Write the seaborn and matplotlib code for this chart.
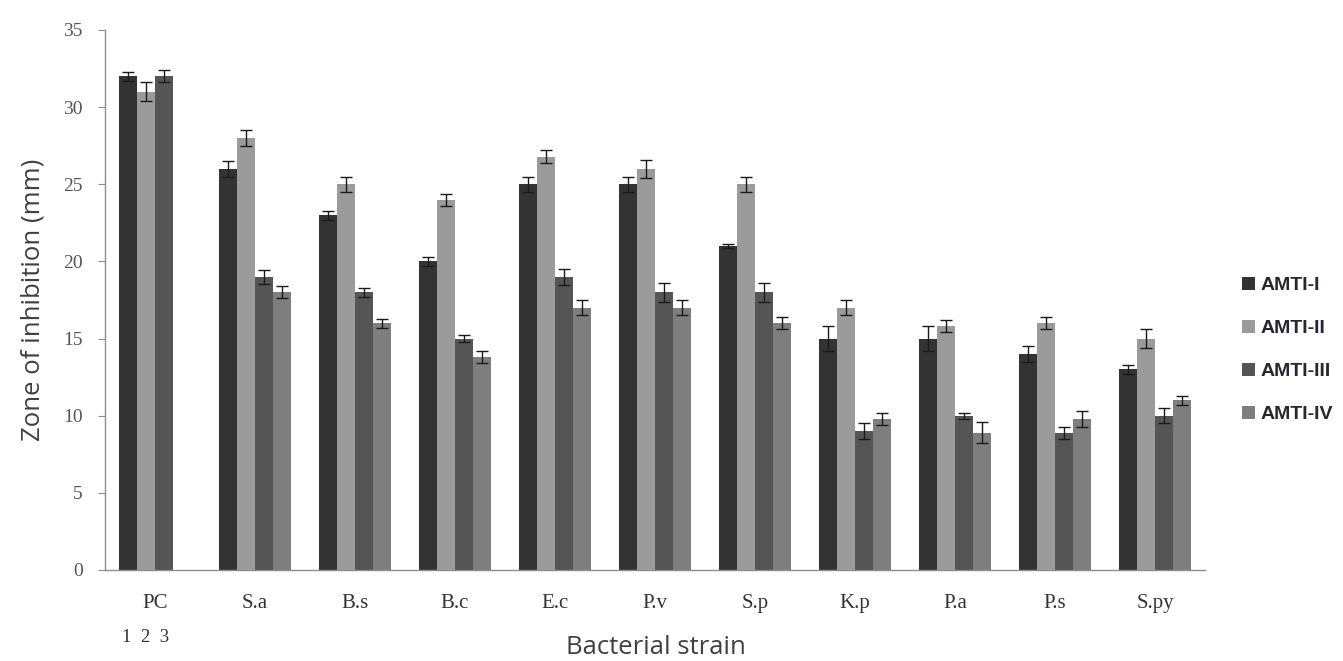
import numpy as np
import pandas as pd
import matplotlib
matplotlib.use('Agg')
import matplotlib.pyplot as plt
from matplotlib.patches import Patch
import seaborn as sns

sns.set_style("white")

strains = ["PC", "S.a", "B.s", "B.c", "E.c", "P.v", "S.p", "K.p", "P.a", "P.s", "S.py"]
samples = ["AMTI-I", "AMTI-II", "AMTI-III", "AMTI-IV"]

# zone of inhibition (mm); PC has no AMTI-IV bar
amti_1 = [32.0, 26.0, 23.0, 20.0, 25.0, 25.0, 21.0, 15.0, 15.0, 14.0, 13.0]
amti_2 = [31.0, 28.0, 25.0, 24.0, 26.8, 26.0, 25.0, 17.0, 15.8, 16.0, 15.0]
amti_3 = [32.0, 19.0, 18.0, 15.0, 19.0, 18.0, 18.0, 9.0, 10.0, 8.9, 10.0]
amti_4 = [np.nan, 18.0, 16.0, 13.8, 17.0, 17.0, 16.0, 9.8, 8.9, 9.8, 11.0]

err_1 = [0.3, 0.5, 0.3, 0.3, 0.5, 0.5, 0.1, 0.8, 0.8, 0.5, 0.3]
err_2 = [0.6, 0.5, 0.5, 0.4, 0.4, 0.6, 0.5, 0.5, 0.4, 0.4, 0.6]
err_3 = [0.4, 0.45, 0.3, 0.25, 0.5, 0.6, 0.6, 0.5, 0.2, 0.4, 0.5]
err_4 = [np.nan, 0.4, 0.3, 0.4, 0.5, 0.5, 0.4, 0.4, 0.7, 0.5, 0.3]

colors = ["#333333", "#9b9b9b", "#555555", "#7e7e7e"]

rows = []
for name, vals, errs in zip(samples, [amti_1, amti_2, amti_3, amti_4], [err_1, err_2, err_3, err_4]):
    for s, v, e in zip(strains, vals, errs):
        if not np.isnan(v):
            rows.append({"strain": s, "sample": name, "zone": v, "err": e})
df = pd.DataFrame(rows)
err_lookup = {(r.strain, r.sample): r.err for r in df.itertuples()}

W, H = 1343, 661
fig = plt.figure(figsize=(W / 100, H / 100), dpi=100)
ax = fig.add_axes([105 / W, 1 - 570 / H, 1100 / W, 540 / H])

sns.barplot(data=df, x="strain", y="zone", hue="sample", order=strains, hue_order=samples,
            palette=colors, errorbar=None, width=0.72, saturation=1, linewidth=0, ax=ax, legend=False)

for cont, name in zip(ax.containers, samples):
    for bar in cont:
        xc = bar.get_x() + bar.get_width() / 2
        h = bar.get_height()
        if np.isnan(h):
            continue
        e = err_lookup.get((strains[int(round(xc))], name))
        if e is None:
            continue
        ax.errorbar(xc, h, yerr=e, fmt="none", ecolor="#1a1a1a", elinewidth=1.0, capsize=4.5, capthick=1.0)

ax.set_xlim(-0.5, len(strains) - 0.5)
ax.set_ylim(0, 35)
ax.set_yticks(range(0, 36, 5))
for side in ["top", "right"]:
    ax.spines[side].set_visible(False)
for side in ["left", "bottom"]:
    ax.spines[side].set_color("#8c8c8c")
    ax.spines[side].set_linewidth(1.0)

ax.set_xticks(np.arange(-0.5, len(strains), 1.0), minor=True)
ax.tick_params(axis="x", which="major", length=0, pad=17)
ax.tick_params(axis="x", which="minor", length=5, direction="out", color="#8c8c8c")
ax.tick_params(axis="y", length=5, direction="out", color="#8c8c8c", left=True, pad=11)
ax.set_xticklabels(strains, fontfamily="Liberation Serif", fontsize=15, color="#333333")
for lbl in ax.get_yticklabels():
    lbl.set_fontfamily("Liberation Serif")
    lbl.set_fontsize(14)
    lbl.set_color("#555555")
ax.set_xlabel("")
ax.set_ylabel("")

fig.text(656 / W, 1 / H, "Bacterial strain", fontfamily="Open Sans", fontsize=18.5,
         color="#404040", ha="center", va="bottom")
fig.text(33 / W, 1 - 300 / H, "Zone of inhibition (mm)", fontfamily="Open Sans", fontsize=18.5,
         color="#404040", ha="center", va="center", rotation=90)

fig.text(122 / W, 1 - 637 / H, "1  2  3", fontfamily="Liberation Serif", fontsize=13.5,
         color="#333333", va="center", ha="left")

handles = [Patch(facecolor=c, edgecolor="none") for c in colors]
leg = fig.legend(handles, samples, loc="center left", bbox_to_anchor=(1224 / W, 1 - 350 / H),
                 frameon=False, handlelength=0.7, handleheight=0.7, handletextpad=0.3,
                 labelspacing=1.3, prop={"family": "Liberation Sans", "weight": "bold", "size": 14})
for t in leg.get_texts():
    t.set_color("#2a2530")

fig.savefig("out.png", dpi=100)
plt.close(fig)
